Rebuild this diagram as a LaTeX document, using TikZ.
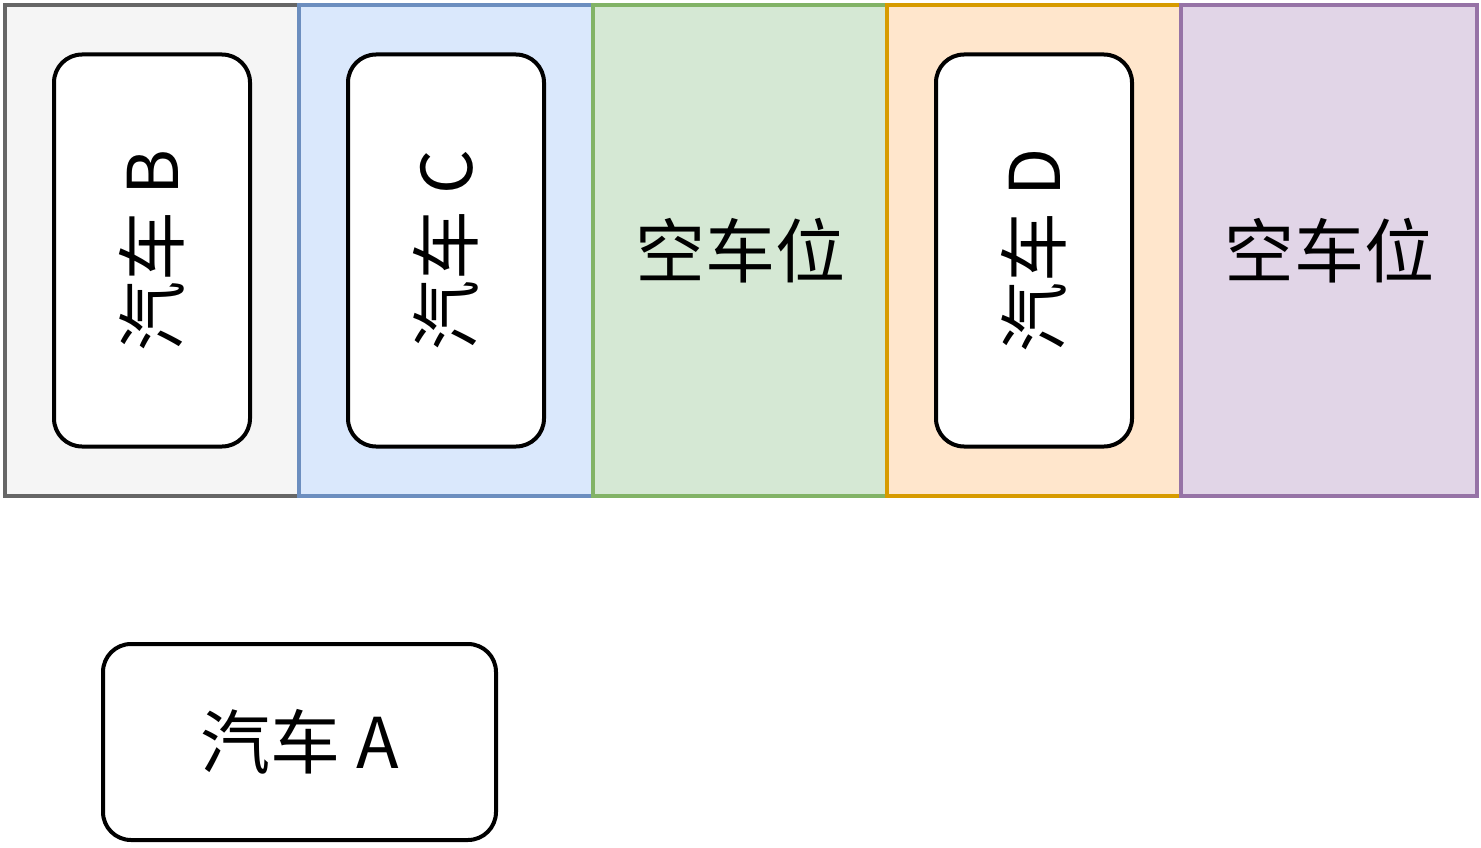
\documentclass[tikz,border=0pt]{standalone}
\usepackage{fontspec}
\setmainfont{Noto Sans CJK SC}
\usetikzlibrary{positioning}

\definecolor{grayfill}{HTML}{F5F5F5}\definecolor{graydraw}{HTML}{666666}
\definecolor{bluefill}{HTML}{DAE8FC}\definecolor{bluedraw}{HTML}{6C8EBF}
\definecolor{greenfill}{HTML}{D5E8D4}\definecolor{greendraw}{HTML}{82B366}
\definecolor{orangefill}{HTML}{FFE6CC}\definecolor{orangedraw}{HTML}{D79B00}
\definecolor{purplefill}{HTML}{E1D5E7}\definecolor{purpledraw}{HTML}{9673A6}

\tikzset{
  slot/.style={draw, line width=4pt, minimum width=294pt, minimum height=491pt,
    inner sep=0pt, font=\fontsize{70}{72}\selectfont},
  car/.style={draw, fill=white, line width=4pt, rounded corners=28pt,
    inner sep=0pt, font=\fontsize{70}{72}\selectfont},
}

\begin{document}
\begin{tikzpicture}[x=1pt,y=-1pt]
\useasboundingbox (0,0) rectangle (1481,848);

\node[slot, fill=grayfill, draw=graydraw] (slot1) at (152,250.5) {};
\node[slot, fill=bluefill, draw=bluedraw] (slot2) at (446,250.5) {};
\node[slot, fill=greenfill, draw=greendraw] (slot3) at (740,250.5) {空车位};
\node[slot, fill=orangefill, draw=orangedraw] (slot4) at (1034,250.5) {};
\node[slot, fill=purplefill, draw=purpledraw, minimum width=296pt] (slot5) at (1329,250.5) {空车位};

\node[car, rotate=90, minimum width=392pt, minimum height=196pt] (carB) at (slot1) {汽车 B};
\node[car, rotate=90, minimum width=392pt, minimum height=196pt] (carC) at (slot2) {汽车 C};
\node[car, rotate=90, minimum width=392pt, minimum height=196pt] (carD) at (slot4) {汽车 D};

\node[car, minimum width=393pt, minimum height=196pt] (carA) at (299.5,742) {汽车 A};
\end{tikzpicture}
\end{document}
